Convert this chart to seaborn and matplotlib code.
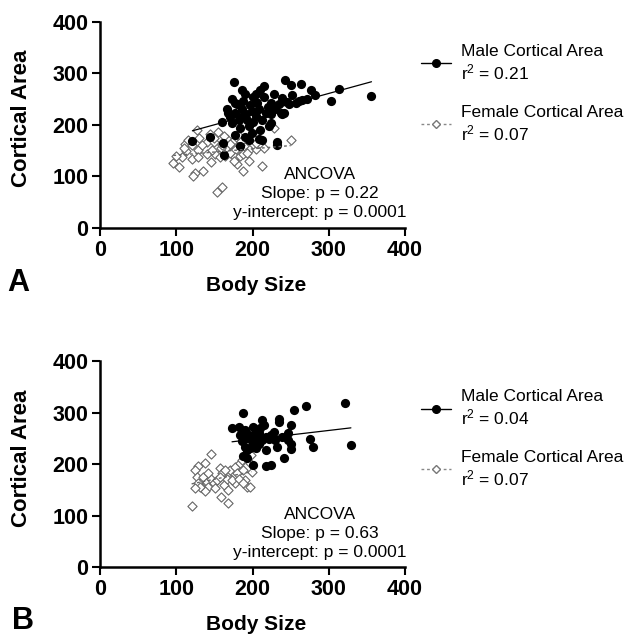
import numpy as np
import pandas as pd
import matplotlib
matplotlib.use("Agg")
import matplotlib.pyplot as plt
from matplotlib.lines import Line2D
import seaborn as sns

# ---------------- data ----------------
a_male_x = [175,186,243,251,263,276,314,356,303,272,252,204,210,201,173,177,188,215,224,235,
            248,257,261,168,177,186,191,199,208,217,224,230,237,239,182,193,204,212,224,221,
            241,183,177,190,199,208,212,144,121,161,232,232,163,183,173,195,180,196,206,220,
            166,185,170,200,245,265,282,210,195,160,228,238,190,215,205]
a_male_y = [283,268,287,277,280,267,270,255,247,250,258,260,267,253,250,243,247,253,243,240,
            240,243,247,223,223,230,220,227,230,223,220,230,223,220,210,210,217,210,203,197,
            223,193,180,177,183,173,170,177,168,165,167,160,141,158,203,197,240,238,243,235,
            230,215,215,205,245,248,258,190,170,205,260,252,260,275,245]
a_female_x = [127,155,144,111,115,107,96,104,113,120,124,122,135,129,140,140,149,151,157,164,
              153,160,166,173,168,177,177,184,179,188,195,190,197,205,213,228,250,183,188,134,
              147,158,170,120,100,110,130,162,185,200,145,175,193,215,170,160,181,150,128,205]
a_female_y = [189,185,182,163,170,137,125,118,149,133,107,100,111,150,167,143,167,143,137,140,
              70,80,173,167,153,150,137,140,123,110,130,157,153,153,120,193,171,160,143,160,
              150,155,163,160,140,155,175,178,168,163,128,130,145,155,145,160,180,175,138,165]

b_male_x = [187,173,182,190,201,212,215,235,235,250,254,270,321,329,275,279,250,250,241,232,
            217,221,228,239,247,190,197,188,193,200,217,224,184,193,204,208,199,208,213,217,
            186,204,204,195,210,224,230,193,246]
b_male_y = [299,270,273,266,273,286,276,287,281,276,305,313,319,237,248,233,240,229,211,234,
            228,248,263,253,261,234,231,215,211,198,196,198,257,250,253,260,244,240,247,253,
            244,231,263,257,270,257,247,227,247]
b_female_x = [120,146,138,129,124,127,129,133,135,140,142,146,149,153,157,160,162,166,168,159,
              168,171,177,179,177,184,188,190,193,197,199,197,195,198,186,173,138,131,157,164,
              182,188,151,124,142]
b_female_y = [119,219,203,196,189,176,163,153,176,166,156,172,163,169,192,182,160,172,150,137,
              125,189,195,182,163,202,189,169,156,202,185,156,215,218,208,169,147,156,176,189,
              172,163,153,153,182]

panels = ["A", "B"]
male_r2 = ["0.21", "0.04"]
female_r2 = ["0.07", "0.07"]
slope_p = ["0.22", "0.63"]
intercept_p = ["0.0001", "0.0001"]
ticks = [0, 100, 200, 300, 400]

# ---------------- style ----------------
sns.set_style("ticks")
plt.rcParams["font.family"] = ["Liberation Sans", "DejaVu Sans"]
plt.rcParams["mathtext.default"] = "regular"
for k in ["text.color", "axes.labelcolor", "xtick.color", "ytick.color", "axes.edgecolor"]:
    plt.rcParams[k] = "black"

fig = plt.figure(figsize=(6.26, 6.38), dpi=100)
axes_rects = [[0.160, 0.643, 0.487, 0.323], [0.160, 0.111, 0.487, 0.323]]

data = [
    (a_male_x, a_male_y, a_female_x, a_female_y),
    (b_male_x, b_male_y, b_female_x, b_female_y),
]

label_y = [0.552, 0.021]
panel_xy = [(0.012, 0.556), (0.019, 0.026)]
legend_anchor_y = [0.924, 0.896]
female_col = "#666666"

for i, rect in enumerate(axes_rects):
    ax = fig.add_axes(rect)
    mx, my, fx, fy = data[i]
    dm = pd.DataFrame({"x": mx, "y": my})
    dfe = pd.DataFrame({"x": fx, "y": fy})
    sns.regplot(data=dfe, x="x", y="y", ax=ax, ci=None, marker="D",
                scatter_kws=dict(s=22, facecolors="white", edgecolors=female_col,
                                 linewidths=0.8, alpha=1, zorder=2),
                line_kws=dict(color=female_col, lw=1.0, ls=(0, (2, 2)), zorder=4))
    sns.regplot(data=dm, x="x", y="y", ax=ax, ci=None, marker="o",
                scatter_kws=dict(s=44, color="black", linewidths=0, alpha=1, zorder=3),
                line_kws=dict(color="black", lw=0.9, zorder=5))
    ax.set_xlim(0, 400)
    ax.set_ylim(0, 400)
    ax.set_xticks(ticks)
    ax.set_yticks(ticks)
    ax.set_xlabel("")
    ax.set_ylabel("Cortical Area", fontsize=16, fontweight="bold")
    ax.yaxis.set_label_coords(-0.222, 0.53)
    for s in ["top", "right"]:
        ax.spines[s].set_visible(False)
    for s in ["left", "bottom"]:
        ax.spines[s].set_linewidth(1.8)
        ax.spines[s].set_color("black")
    ax.tick_params(axis="both", direction="out", length=6, width=1.5,
                   labelsize=15.5, pad=2.5, colors="black")
    for lab in ax.get_xticklabels() + ax.get_yticklabels():
        lab.set_fontweight("bold")
    ax.text(0.72, 0.165, "ANCOVA\nSlope: p = %s\ny-intercept: p = %s" % (slope_p[i], intercept_p[i]),
            transform=ax.transAxes, ha="center", va="center", fontsize=12.5,
            linespacing=1.32)
    handles = [
        Line2D([0], [0], color="black", lw=1.0, marker="o", markersize=5.5,
               markerfacecolor="black", markeredgecolor="black"),
        Line2D([0], [0], color="#888888", lw=1.0, ls=(0, (2, 2)), marker="D", markersize=4,
               markerfacecolor="white", markeredgecolor="#777777"),
    ]
    labels = ["Male Cortical Area\nr$^2$ = %s" % male_r2[i],
              "Female Cortical Area\nr$^2$ = %s" % female_r2[i]]
    leg = ax.legend(handles, labels, loc="upper left", bbox_to_anchor=(1.03, legend_anchor_y[i]),
                    frameon=False, fontsize=12.5, handlelength=1.7, handletextpad=0.6,
                    labelspacing=1.3, borderaxespad=0)
    for txt in leg.get_texts():
        txt.set_linespacing(1.2)
    fig.text(rect[0] + rect[2] / 2 + 0.006, label_y[i], "Body Size", ha="center",
             va="center", fontsize=15, fontweight="bold")
    fig.text(panel_xy[i][0], panel_xy[i][1], panels[i], ha="left", va="center",
             fontsize=22, fontweight="bold")

fig.savefig("out.png", dpi=100)
